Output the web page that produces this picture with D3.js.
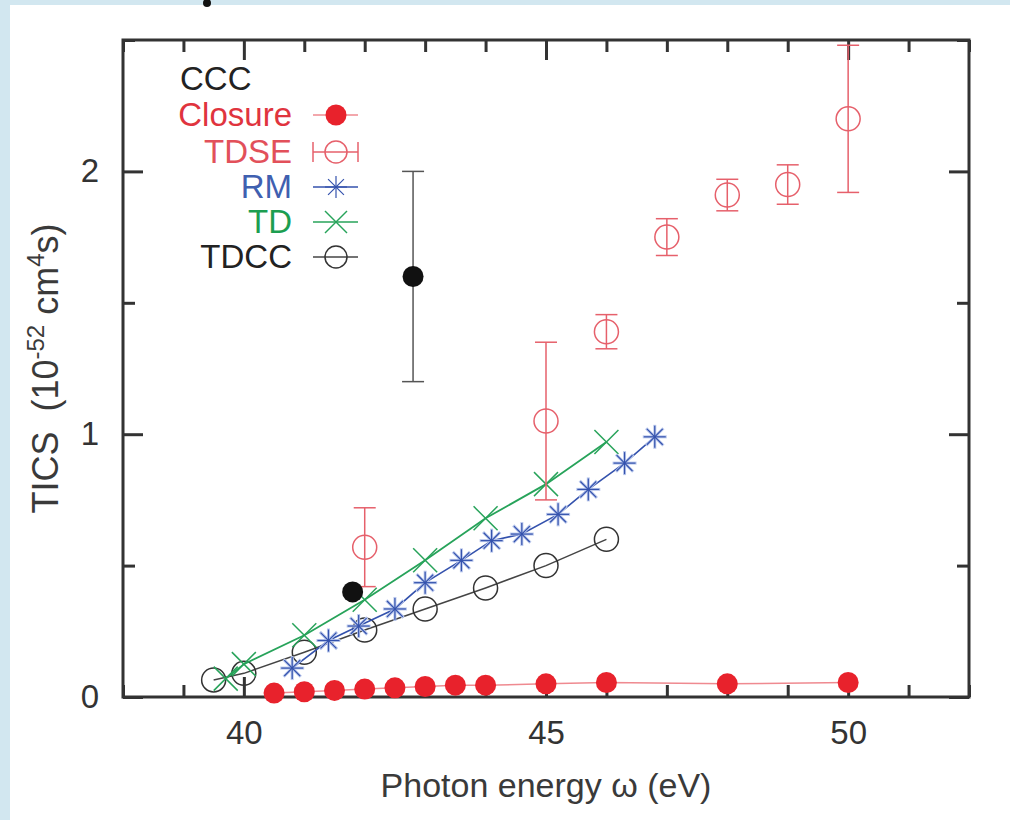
<!DOCTYPE html>
<html>
<head>
<meta charset="utf-8">
<script src="https://cdn.jsdelivr.net/npm/d3@7"></script>
<style>
  html, body { margin: 0; padding: 0; background: #d2e7f0; }
  svg { display: block; }
  text { font-family: "Liberation Sans", Arial, sans-serif; }
</style>
</head>
<body>
<svg id="chart" width="1010" height="820"></svg>
<script>
// data
var closureX = [40.5, 41, 41.5, 42, 42.5, 43, 43.5, 44, 45, 46, 48, 50],
    closureY = [0.015, 0.02, 0.025, 0.03, 0.035, 0.04, 0.045, 0.045, 0.05, 0.055, 0.05, 0.055];

var tdseX = [42, 45, 46, 47, 48, 49, 50],
    tdseY = [0.57, 1.05, 1.39, 1.75, 1.91, 1.95, 2.2],
    tdseErr = [0.15, 0.3, 0.065, 0.07, 0.06, 0.075, 0.28];

var cccX = [41.8, 42.8],
    cccY = [0.4, 1.6],
    cccErr = [0, 0.4];

var rmX = [40.8, 41.4, 41.9, 42.5, 43.0, 43.6, 44.1, 44.6, 45.2, 45.7, 46.3, 46.8],
    rmY = [0.11, 0.215, 0.27, 0.335, 0.435, 0.52, 0.595, 0.62, 0.695, 0.79, 0.89, 0.99];

var tdX = [39.7, 40, 41, 42, 43, 44, 45, 46],
    tdY = [0.07, 0.125, 0.235, 0.37, 0.52, 0.68, 0.81, 0.97];

var tdccX = [39.5, 40, 41, 42, 43, 44, 45, 46],
    tdccY = [0.065, 0.09, 0.17, 0.255, 0.335, 0.415, 0.5, 0.6];

var xMajor = [40, 45, 50],
    xMinor = [38, 39, 41, 42, 43, 44, 46, 47, 48, 49, 51, 52],
    yMajor = [0, 1, 2],
    yMinor = [0.5, 1.5, 2.5];

var legendItems = [
  {name: "Closure", color: "#e0343e", kind: "closure"},
  {name: "TDSE", color: "#e2505a", kind: "tdse"},
  {name: "RM", color: "#3f60b0", kind: "rm"},
  {name: "TD", color: "#1c9e50", kind: "td"},
  {name: "TDCC", color: "#222", kind: "tdcc"}
];

// colours
var red = "#e8222c", redLine = "#ef8a90", tdseCol = "#e6606b",
    blue = "#3452ad", green = "#27a35a", dark = "#333";

var svg = d3.select("#chart");

// white panel + the little black blob on the top edge
svg.append("rect").attr("x", 10).attr("y", 5).attr("width", 1000).attr("height", 815).attr("fill", "#fff");
svg.append("ellipse").attr("cx", 207).attr("cy", 3).attr("rx", 4).attr("ry", 4).attr("fill", "#111");

var pLeft = 123, pRight = 969, pTop = 40, pBottom = 697;

var x = d3.scaleLinear().domain([38, 52]).range([pLeft, pRight]),
    y = d3.scaleLinear().domain([0, 2.5]).range([pBottom, pTop]);

function zip(xs, ys) { return xs.map(function(v, i) { return {x: v, y: ys[i], i: i}; }); }

var line = d3.line().x(function(d) { return x(d.x); }).y(function(d) { return y(d.y); });

// axes (ticks pointing inward)
function styleAxis(g) {
  g.select(".domain").remove();
  g.selectAll(".tick line").attr("stroke", dark).attr("stroke-width", 3);
  g.selectAll(".tick text").attr("fill", "#333").style("font-size", "33px")
    .style("font-family", "'Liberation Sans', Arial, sans-serif");
}

svg.append("g").attr("transform", "translate(0," + pBottom + ")")
  .call(d3.axisBottom(x).tickValues(xMajor).tickSizeInner(-20).tickSizeOuter(0).tickPadding(24).tickFormat(d3.format("d")))
  .call(styleAxis);
svg.append("g").attr("transform", "translate(0," + pBottom + ")")
  .call(d3.axisBottom(x).tickValues(xMinor).tickSizeInner(-12).tickSizeOuter(0).tickFormat(""))
  .call(styleAxis);
svg.append("g").attr("transform", "translate(0," + pTop + ")")
  .call(d3.axisTop(x).tickValues(xMajor).tickSizeInner(-20).tickSizeOuter(0).tickFormat(""))
  .call(styleAxis);
svg.append("g").attr("transform", "translate(0," + pTop + ")")
  .call(d3.axisTop(x).tickValues(xMinor).tickSizeInner(-12).tickSizeOuter(0).tickFormat(""))
  .call(styleAxis);
svg.append("g").attr("transform", "translate(" + pLeft + ",0)")
  .call(d3.axisLeft(y).tickValues(yMajor).tickSizeInner(-20).tickSizeOuter(0).tickPadding(24).tickFormat(d3.format("d")))
  .call(styleAxis);
svg.append("g").attr("transform", "translate(" + pLeft + ",0)")
  .call(d3.axisLeft(y).tickValues(yMinor).tickSizeInner(-12).tickSizeOuter(0).tickFormat(""))
  .call(styleAxis);
svg.append("g").attr("transform", "translate(" + pRight + ",0)")
  .call(d3.axisRight(y).tickValues(yMajor).tickSizeInner(-20).tickSizeOuter(0).tickFormat(""))
  .call(styleAxis);
svg.append("g").attr("transform", "translate(" + pRight + ",0)")
  .call(d3.axisRight(y).tickValues(yMinor).tickSizeInner(-12).tickSizeOuter(0).tickFormat(""))
  .call(styleAxis);

// frame
svg.append("rect").attr("x", pLeft).attr("y", pTop).attr("width", pRight - pLeft).attr("height", pBottom - pTop)
  .attr("fill", "none").attr("stroke", dark).attr("stroke-width", 3);

// axis titles
svg.append("text").attr("x", (pLeft + pRight) / 2).attr("y", 797).attr("text-anchor", "middle")
  .attr("fill", "#3a3a3a").style("font-size", "34px").text("Photon energy \u03c9 (eV)");

var yl = svg.append("text").attr("transform", "translate(58," + ((pTop + pBottom) / 2) + ") rotate(-90)")
  .attr("text-anchor", "middle").attr("fill", "#3a3a3a").style("font-size", "36px").style("white-space", "pre");
yl.append("tspan").text("TICS  (10");
yl.append("tspan").attr("dy", -14).style("font-size", "24px").text("-52");
yl.append("tspan").attr("dy", 14).text(" cm");
yl.append("tspan").attr("dy", -14).style("font-size", "24px").text("4");
yl.append("tspan").attr("dy", 14).text("s)");

// marker helpers
function asterisk(g, cx, cy, s, col, w) {
  [[s, 0], [0, s], [s * 0.72, s * 0.72], [s * 0.72, -s * 0.72]].forEach(function(v) {
    g.append("line").attr("x1", cx - v[0]).attr("y1", cy - v[1]).attr("x2", cx + v[0]).attr("y2", cy + v[1])
      .attr("stroke", col).attr("stroke-width", w);
  });
}
function cross(g, cx, cy, s, col, w) {
  [[s, s], [s, -s]].forEach(function(v) {
    g.append("line").attr("x1", cx - v[0]).attr("y1", cy - v[1]).attr("x2", cx + v[0]).attr("y2", cy + v[1])
      .attr("stroke", col).attr("stroke-width", w);
  });
}

var plot = svg.append("g");

// TDCC
var tdcc = zip(tdccX, tdccY);
plot.append("path").attr("d", line(tdcc)).attr("fill", "none").attr("stroke", "#444").attr("stroke-width", 1.5);
plot.selectAll(".tdcc").data(tdcc).enter().append("circle").attr("class", "tdcc")
  .attr("cx", function(d) { return x(d.x); }).attr("cy", function(d) { return y(d.y); }).attr("r", 12)
  .attr("fill", "none").attr("stroke", "#333").attr("stroke-width", 1.5);

// TD
var td = zip(tdX, tdY);
plot.append("path").attr("d", line(td)).attr("fill", "none").attr("stroke", green).attr("stroke-width", 1.8);
var tdG = plot.append("g");
td.forEach(function(d) { cross(tdG, x(d.x), y(d.y), 12, green, 1.5); });

// RM
var rm = zip(rmX, rmY);
plot.append("path").attr("d", line(rm)).attr("fill", "none").attr("stroke", blue).attr("stroke-width", 1.6);
var rmG = plot.append("g");
rm.forEach(function(d) { asterisk(rmG, x(d.x), y(d.y), 12, "#b9c7ec", 3); });
rm.forEach(function(d) { asterisk(rmG, x(d.x), y(d.y), 11, blue, 1.2); });

// TDSE with error bars
var tdse = tdseX.map(function(v, i) { return {x: v, y: tdseY[i], e: tdseErr[i]}; });
var tdseG = plot.selectAll(".tdse").data(tdse).enter().append("g").attr("class", "tdse");
tdseG.append("line")
  .attr("x1", function(d) { return x(d.x); }).attr("x2", function(d) { return x(d.x); })
  .attr("y1", function(d) { return y(d.y - d.e); }).attr("y2", function(d) { return y(d.y + d.e); })
  .attr("stroke", tdseCol).attr("stroke-width", 1.5);
[-1, 1].forEach(function(sg) {
  tdseG.append("line")
    .attr("x1", function(d) { return x(d.x) - 11; }).attr("x2", function(d) { return x(d.x) + 11; })
    .attr("y1", function(d) { return y(d.y + sg * d.e); }).attr("y2", function(d) { return y(d.y + sg * d.e); })
    .attr("stroke", tdseCol).attr("stroke-width", 1.5);
});
tdseG.append("circle").attr("cx", function(d) { return x(d.x); }).attr("cy", function(d) { return y(d.y); })
  .attr("r", 12).attr("fill", "none").attr("stroke", tdseCol).attr("stroke-width", 1.5);

// CCC black dots with error bars
var ccc = cccX.map(function(v, i) { return {x: v, y: cccY[i], e: cccErr[i]}; });
var cccG = plot.selectAll(".ccc").data(ccc).enter().append("g").attr("class", "ccc");
cccG.filter(function(d) { return d.e > 0; }).each(function(d) {
  var g = d3.select(this);
  g.append("line").attr("x1", x(d.x)).attr("x2", x(d.x)).attr("y1", y(d.y - d.e)).attr("y2", y(d.y + d.e))
    .attr("stroke", "#555").attr("stroke-width", 1.5);
  [-1, 1].forEach(function(sg) {
    g.append("line").attr("x1", x(d.x) - 11).attr("x2", x(d.x) + 11)
      .attr("y1", y(d.y + sg * d.e)).attr("y2", y(d.y + sg * d.e)).attr("stroke", "#555").attr("stroke-width", 1.5);
  });
});
cccG.append("circle").attr("cx", function(d) { return x(d.x); }).attr("cy", function(d) { return y(d.y); })
  .attr("r", 10.5).attr("fill", "#111");

// Closure red dots
var clo = zip(closureX, closureY);
plot.append("path").attr("d", line(clo)).attr("fill", "none").attr("stroke", redLine).attr("stroke-width", 1.5);
plot.selectAll(".clo").data(clo).enter().append("circle").attr("class", "clo")
  .attr("cx", function(d) { return x(d.x); }).attr("cy", function(d) { return y(d.y); })
  .attr("r", 10.5).attr("fill", red);

// legend
var leg = svg.append("g");
leg.append("text").attr("x", 180).attr("y", 90).attr("fill", "#222").style("font-size", "33px").text("CCC");
var rowY = [115, 152, 187, 222, 257], lx1 = 313, lx2 = 358, lm = 336;
legendItems.forEach(function(it, i) {
  var cy = rowY[i];
  leg.append("text").attr("x", 292).attr("y", cy + 11).attr("text-anchor", "end")
    .attr("fill", it.color).style("font-size", "33px").text(it.name);
  var g = leg.append("g");
  if (it.kind == "closure") {
    g.append("line").attr("x1", lx1).attr("x2", lx2).attr("y1", cy).attr("y2", cy).attr("stroke", redLine).attr("stroke-width", 1.5);
    g.append("circle").attr("cx", lm).attr("cy", cy).attr("r", 10.5).attr("fill", red);
  } else if (it.kind == "tdse") {
    g.append("line").attr("x1", lx1).attr("x2", lx2).attr("y1", cy).attr("y2", cy).attr("stroke", tdseCol).attr("stroke-width", 1.5);
    g.append("line").attr("x1", lx1).attr("x2", lx1).attr("y1", cy - 10).attr("y2", cy + 10).attr("stroke", tdseCol).attr("stroke-width", 1.5);
    g.append("line").attr("x1", lx2).attr("x2", lx2).attr("y1", cy - 10).attr("y2", cy + 10).attr("stroke", tdseCol).attr("stroke-width", 1.5);
    g.append("circle").attr("cx", lm).attr("cy", cy).attr("r", 11).attr("fill", "none").attr("stroke", tdseCol).attr("stroke-width", 1.5);
  } else if (it.kind == "rm") {
    g.append("line").attr("x1", lx1).attr("x2", lx2).attr("y1", cy).attr("y2", cy).attr("stroke", blue).attr("stroke-width", 1.5);
    asterisk(g, lm, cy, 11, blue, 1.2);
  } else if (it.kind == "td") {
    g.append("line").attr("x1", lx1).attr("x2", lx2).attr("y1", cy).attr("y2", cy).attr("stroke", green).attr("stroke-width", 1.5);
    cross(g, lm, cy, 11, green, 1.5);
  } else {
    g.append("line").attr("x1", lx1).attr("x2", lx2).attr("y1", cy).attr("y2", cy).attr("stroke", "#444").attr("stroke-width", 1.5);
    g.append("circle").attr("cx", lm).attr("cy", cy).attr("r", 11).attr("fill", "none").attr("stroke", "#333").attr("stroke-width", 1.5);
  }
});
</script>
</body>
</html>
